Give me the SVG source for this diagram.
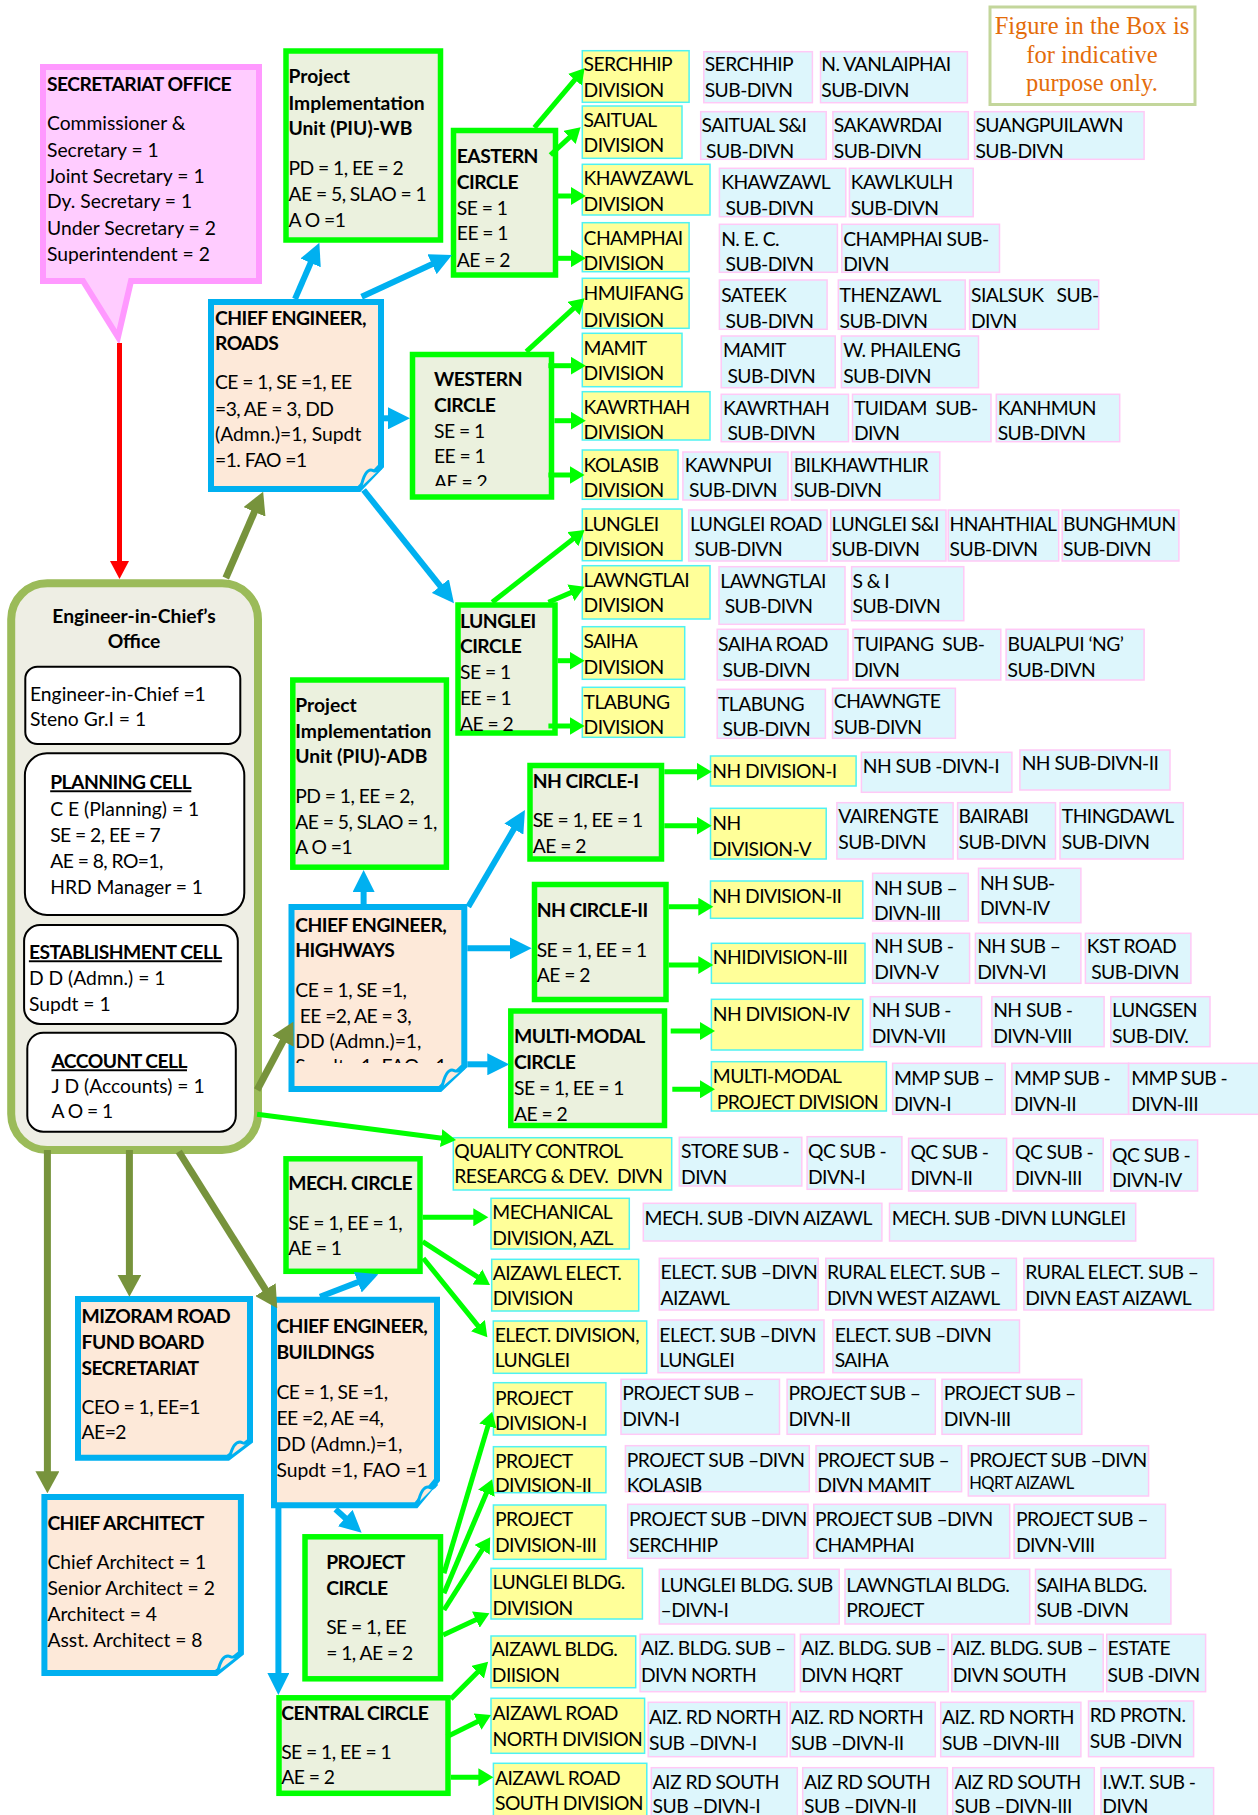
<svg xmlns="http://www.w3.org/2000/svg" width="1258" height="1815" viewBox="0 0 1258 1815">
<style>
.t{font-family:Lato,'Liberation Sans',sans-serif;font-size:19.3px;fill:#000}
.b{font-weight:700}
.c{letter-spacing:-0.55px}
.yd~text,.sd~text{letter-spacing:-0.55px}
.u{text-decoration:underline}
.s{font-size:16.5px}
.p{white-space:pre}
.gb{fill:#EBF1DE;stroke:#00FF00;stroke-width:5.5}
.pb{fill:#FDE9D9;stroke:#00B0F0;stroke-width:6}
.yd{fill:#FFFF99;stroke:#4FF2F2;stroke-width:1.5}
.sd{fill:#DDF6FC;stroke:#FFC9F6;stroke-width:1.5}
.ib{fill:#FFFFFF;stroke:#000;stroke-width:2}
.cg{fill:none;stroke:#00FF00;stroke-width:5;marker-end:url(#ag)}
.cb{fill:none;stroke:#00B0F0;stroke-width:6;marker-end:url(#ab)}
.co{fill:none;stroke:#77933C;stroke-width:7;marker-end:url(#ao)}
.fold{fill:#FDE9D9;stroke:#00B0F0;stroke-width:3}
.note{font-family:'Liberation Serif','DejaVu Serif',serif;font-size:24.5px;fill:#E46C0A;text-anchor:middle}
</style>
<defs>
<marker id="ag" markerUnits="userSpaceOnUse" markerWidth="16" markerHeight="18" refX="7" refY="9" orient="auto"><path d="M0,0 L15,9 L0,18 Z" fill="#00FF00"/></marker>
<marker id="ab" markerUnits="userSpaceOnUse" markerWidth="22" markerHeight="22" refX="10" refY="11" orient="auto"><path d="M0,0 L22,11 L0,22 Z" fill="#00B0F0"/></marker>
<marker id="ao" markerUnits="userSpaceOnUse" markerWidth="22" markerHeight="24" refX="10" refY="12" orient="auto"><path d="M0,0 L22,12 L0,24 Z" fill="#77933C"/></marker>
<clipPath id="cW"><rect x="412" y="354" width="140" height="132"/></clipPath>
<clipPath id="cH"><rect x="291" y="907" width="172" height="156"/></clipPath>
</defs>
<rect width="1258" height="1815" fill="#FFFFFF"/>

<g id="note">
<rect x="990" y="7" width="205" height="97.5" fill="#FFFFFF" stroke="#C3D69B" stroke-width="3"/>
<text class="note" x="1092" y="34.3">Figure in the Box is</text>
<text class="note" x="1092" y="62.7">for indicative</text>
<text class="note" x="1092" y="90.7">purpose only.</text>
</g>

<g id="secretariat">
<path d="M43,67 H259 V281 H131 L118,337 L83,281 H43 Z" fill="#FFCCFF" stroke="#FF99FF" stroke-width="6"/>
<text class="t b c" x="47" y="90.7">SECRETARIAT OFFICE</text>
<text class="t" x="47" y="130">Commissioner &amp;</text>
<text class="t" x="47" y="156.7">Secretary = 1</text>
<text class="t" x="47" y="182.7">Joint Secretary = 1</text>
<text class="t" x="47" y="208.3">Dy. Secretary = 1</text>
<text class="t" x="47" y="235">Under Secretary = 2</text>
<text class="t" x="47" y="261">Superintendent = 2</text>
</g>

<g id="piu-wb">
<rect class="gb" x="286" y="51" width="154.5" height="189"/>
<text class="t b" x="288.5" y="83.3">Project</text>
<text class="t b" x="288.5" y="110">Implementation</text>
<text class="t b" x="288.5" y="135">Unit (PIU)-WB</text>
<text class="t c" x="288.5" y="175">PD = 1, EE = 2</text>
<text class="t c" x="288.5" y="201">AE = 5, SLAO = 1</text>
<text class="t c" x="288.5" y="226.7">A O =1</text>
</g>

<g id="eastern-circle">
<rect class="gb" x="453.5" y="130.5" width="102" height="144.5"/>
<text class="t b c" x="456.8" y="162.7">EASTERN</text>
<text class="t b c" x="456.8" y="189.3">CIRCLE</text>
<text class="t c" x="456.8" y="215">SE = 1</text>
<text class="t c" x="456.8" y="240">EE = 1</text>
<text class="t c" x="456.8" y="266.7">AE = 2</text>
</g>

<g id="ce-roads">
<path class="pb" d="M211,302 H381 V466 L359,489 H211 Z"/>
<path class="fold" d="M361,487 C363,478 366,470 371,470 C374,470 375,474 381,468"/>
<text class="t b c" x="215" y="325">CHIEF ENGINEER,</text>
<text class="t b c" x="215" y="350">ROADS</text>
<text class="t c" x="215" y="389.3">CE = 1, SE =1, EE</text>
<text class="t c" x="215" y="415.7">=3, AE = 3, DD</text>
<text class="t" x="215" y="441">(Admn.)=1, Supdt</text>
<text class="t c" x="215" y="467.3">=1. FAO =1</text>
</g>

<g id="western-circle">
<rect class="gb" x="412.5" y="354.5" width="139" height="142.5"/>
<g clip-path="url(#cW)">
<text class="t b c" x="434" y="386">WESTERN</text>
<text class="t b c" x="434" y="411.7">CIRCLE</text>
<text class="t c" x="434" y="437.7">SE = 1</text>
<text class="t c" x="434" y="463.3">EE = 1</text>
<text class="t c" x="434" y="489">AE = 2</text>
</g>
</g>

<g id="eic-office">
<rect x="11.2" y="583.3" width="246.8" height="566.7" rx="36" fill="#EEEEE4" stroke="#9BBB59" stroke-width="8"/>
<text class="t b" x="134" y="623.3" text-anchor="middle">Engineer-in-Chief’s</text>
<text class="t b" x="134" y="648.3" text-anchor="middle">Office</text>
<rect class="ib" x="25.3" y="666.7" width="215" height="77.3" rx="12"/>
<text class="t" x="30" y="700.7">Engineer-in-Chief =1</text>
<text class="t" x="30" y="726">Steno Gr.I = 1</text>
<rect class="ib" x="24.9" y="753.3" width="219.4" height="161.7" rx="22"/>
<text class="t b u c" x="50.2" y="789.3">PLANNING CELL</text>
<text class="t" x="50.2" y="816">C E (Planning) = 1</text>
<text class="t c" x="50.2" y="841.7">SE = 2, EE = 7</text>
<text class="t c" x="50.2" y="868.3">AE = 8, RO=1,</text>
<text class="t" x="50.2" y="894">HRD Manager = 1</text>
<rect class="ib" x="24.1" y="925" width="213.7" height="99" rx="16"/>
<text class="t b u c" x="28.9" y="959.3">ESTABLISHMENT CELL</text>
<text class="t" x="28.9" y="985">D D (Admn.) = 1</text>
<text class="t" x="28.9" y="1011">Supdt = 1</text>
<rect class="ib" x="27.3" y="1032.7" width="208.5" height="99" rx="16"/>
<text class="t b u c" x="51.4" y="1068.3">ACCOUNT CELL</text>
<text class="t" x="51.4" y="1092.7">J D (Accounts) = 1</text>
<text class="t c" x="51.4" y="1118.3">A O = 1</text>
</g>

<g id="piu-adb">
<rect class="gb" x="292.8" y="680" width="153.6" height="187.2"/>
<text class="t b" x="295.3" y="711.7">Project</text>
<text class="t b" x="295.3" y="737.7">Implementation</text>
<text class="t b" x="295.3" y="763.3">Unit (PIU)-ADB</text>
<text class="t c" x="295.3" y="803.3">PD = 1, EE = 2,</text>
<text class="t c" x="295.3" y="829">AE = 5, SLAO = 1,</text>
<text class="t c" x="295.3" y="854.3">A O =1</text>
</g>

<g id="lunglei-circle">
<rect class="gb" x="458" y="605" width="97" height="128"/>
<text class="t b c" x="460" y="627.7">LUNGLEI</text>
<text class="t b c" x="460" y="653.3">CIRCLE</text>
<text class="t c" x="460" y="679.3">SE = 1</text>
<text class="t c" x="460" y="705">EE = 1</text>
<text class="t c" x="460" y="731">AE = 2</text>
</g>

<g id="ce-highways">
<path class="pb" d="M291.5,907 H464.3 V1066 L440,1089 H291.5 Z"/>
<path class="fold" d="M442,1087 C444,1078 447,1070 452,1070 C455,1070 456,1074 464,1068"/>
<g clip-path="url(#cH)">
<text class="t b c" x="295.3" y="931.7">CHIEF ENGINEER,</text>
<text class="t b c" x="295.3" y="957.3">HIGHWAYS</text>
<text class="t c" x="295.3" y="996.7">CE = 1, SE =1,</text>
<text class="t p c" x="295.3" y="1022.7"> EE =2, AE = 3,</text>
<text class="t" x="295.3" y="1048.3">DD (Admn.)=1,</text>
<text class="t" x="295.3" y="1073.3">Supdt =1, FAO =1</text>
</g>
</g>

<g id="nh-circle-1">
<rect class="gb" x="530" y="765.5" width="131.5" height="93.5"/>
<text class="t b c" x="532.7" y="788.3">NH CIRCLE-I</text>
<text class="t c" x="532.7" y="826.7">SE = 1, EE = 1</text>
<text class="t c" x="532.7" y="852.7">AE = 2</text>
</g>

<g id="nh-circle-2">
<rect class="gb" x="534.5" y="884.5" width="131.5" height="115"/>
<text class="t b c" x="536.7" y="917.3">NH CIRCLE-II</text>
<text class="t c" x="536.7" y="956.7">SE = 1, EE = 1</text>
<text class="t c" x="536.7" y="982.3">AE = 2</text>
</g>

<g id="multimodal-circle">
<rect class="gb" x="510.8" y="1011" width="153.7" height="114.5"/>
<text class="t b c" x="514" y="1043.3">MULTI-MODAL</text>
<text class="t b c" x="514" y="1069">CIRCLE</text>
<text class="t c" x="514" y="1095">SE = 1, EE = 1</text>
<text class="t c" x="514" y="1120.7">AE = 2</text>
</g>

<g id="mech-circle">
<rect class="gb" x="286" y="1158.8" width="134" height="112.5"/>
<text class="t b c" x="288.3" y="1190">MECH. CIRCLE</text>
<text class="t c" x="288.3" y="1230">SE = 1, EE = 1,</text>
<text class="t c" x="288.3" y="1255">AE = 1</text>
</g>

<g id="mrfb">
<path class="pb" d="M78,1299 H250 V1441 L228,1457.7 H78 Z"/>
<path class="fold" d="M230,1456 C232,1448 235,1442 240,1442 C243,1442 244,1446 250,1441"/>
<text class="t b c" x="81.6" y="1323.3">MIZORAM ROAD</text>
<text class="t b c" x="81.6" y="1349.3">FUND BOARD</text>
<text class="t b c" x="81.6" y="1375">SECRETARIAT</text>
<text class="t c" x="81.6" y="1414.3">CEO = 1, EE=1</text>
<text class="t c" x="81.6" y="1439.3">AE=2</text>
</g>

<g id="ce-buildings">
<path class="pb" d="M274,1299.7 H437 V1480 L416,1505.3 H274 Z"/>
<path class="fold" d="M418,1503 C420,1494 423,1487 428,1487 C431,1487 432,1491 437,1484"/>
<text class="t b c" x="276.4" y="1333.3">CHIEF ENGINEER,</text>
<text class="t b c" x="276.4" y="1359.3">BUILDINGS</text>
<text class="t c" x="276.4" y="1399.3">CE = 1, SE =1,</text>
<text class="t c" x="276.4" y="1425">EE =2, AE =4,</text>
<text class="t" x="276.4" y="1451">DD (Admn.)=1,</text>
<text class="t" x="276.4" y="1476.7">Supdt =1, FAO =1</text>
</g>

<g id="chief-architect">
<path class="pb" d="M44.4,1497 H240.9 V1653 L216,1673 H44.4 Z"/>
<path class="fold" d="M218,1671 C220,1662 223,1656 228,1656 C231,1656 232,1660 240,1654"/>
<text class="t b c" x="47.4" y="1530">CHIEF ARCHITECT</text>
<text class="t" x="47.4" y="1569">Chief Architect = 1</text>
<text class="t" x="47.4" y="1595">Senior Architect = 2</text>
<text class="t" x="47.4" y="1621">Architect = 4</text>
<text class="t" x="47.4" y="1646.7">Asst. Architect = 8</text>
</g>

<g id="project-circle">
<rect class="gb" x="305" y="1536.8" width="135.5" height="142"/>
<text class="t b c" x="326.2" y="1569.3">PROJECT</text>
<text class="t b c" x="326.2" y="1595">CIRCLE</text>
<text class="t c" x="326.2" y="1634">SE = 1, EE</text>
<text class="t c" x="326.2" y="1660">= 1, AE = 2</text>
</g>

<g id="central-circle">
<rect class="gb" x="279" y="1697.8" width="169" height="95.5"/>
<text class="t b c" x="281.2" y="1720">CENTRAL CIRCLE</text>
<text class="t c" x="281.2" y="1759.3">SE = 1, EE = 1</text>
<text class="t c" x="281.2" y="1784.3">AE = 2</text>
</g>

<!-- Divisions and sub-divisions -->
<g id="serchhip-div"><rect class="yd" x="582.3" y="50.7" width="106.8" height="51.6"/><text class="t" x="583.6" y="70.7">SERCHHIP</text><text class="t" x="583.6" y="96.7">DIVISION</text></g>
<g id="serchhip-sd"><rect class="sd" x="703.8" y="51.7" width="108.6" height="51"/><text class="t" x="704.7" y="70.7">SERCHHIP</text><text class="t" x="704.7" y="97.3">SUB-DIVN</text></g>
<g id="vanlaiphai-sd"><rect class="sd" x="820.5" y="51.7" width="146.9" height="51"/><text class="t" x="821.3" y="70.7">N. VANLAIPHAI</text><text class="t" x="821.3" y="97.3">SUB-DIVN</text></g>

<g id="saitual-div"><rect class="yd" x="582.3" y="106" width="99.7" height="52.3"/><text class="t" x="583.6" y="127.3">SAITUAL</text><text class="t" x="583.6" y="151.7">DIVISION</text></g>
<g id="saitual-sd"><rect class="sd" x="700.7" y="111.7" width="125.5" height="47.6"/><text class="t" x="701.6" y="132.3">SAITUAL S&amp;I</text><text class="t" x="706" y="158">SUB-DIVN</text></g>
<g id="sakawrdai-sd"><rect class="sd" x="832.9" y="111.7" width="135.4" height="47.6"/><text class="t" x="833.8" y="132.3">SAKAWRDAI</text><text class="t" x="833.8" y="158">SUB-DIVN</text></g>
<g id="suangpuilawn-sd"><rect class="sd" x="974.5" y="111.7" width="169.6" height="47.6"/><text class="t" x="975.4" y="132.3">SUANGPUILAWN</text><text class="t" x="975.4" y="158">SUB-DIVN</text></g>

<g id="khawzawl-div"><rect class="yd" x="582.3" y="164.3" width="127.7" height="50.7"/><text class="t" x="583.6" y="185">KHAWZAWL</text><text class="t" x="583.6" y="211">DIVISION</text></g>
<g id="khawzawl-sd"><rect class="sd" x="719.4" y="168.3" width="126.4" height="48.4"/><text class="t" x="721.2" y="189">KHAWZAWL</text><text class="t" x="725.6" y="215">SUB-DIVN</text></g>
<g id="kawlkulh-sd"><rect class="sd" x="849.4" y="168.3" width="123.8" height="48.4"/><text class="t" x="850.7" y="189">KAWLKULH</text><text class="t" x="850.7" y="215">SUB-DIVN</text></g>

<g id="champhai-div"><rect class="yd" x="582.3" y="222.7" width="106.8" height="49"/><text class="t" x="583.6" y="245">CHAMPHAI</text><text class="t" x="583.6" y="270">DIVISION</text></g>
<g id="nec-sd"><rect class="sd" x="719.4" y="224.3" width="118" height="48"/><text class="t" x="721.2" y="245.7">N. E. C.</text><text class="t" x="725.6" y="271">SUB-DIVN</text></g>
<g id="champhai-sd"><rect class="sd" x="841.8" y="224.3" width="157.7" height="48"/><text class="t" x="843.2" y="245.7">CHAMPHAI SUB-</text><text class="t" x="843.2" y="271">DIVN</text></g>

<g id="hmuifang-div"><rect class="yd" x="582.3" y="278.3" width="106.8" height="50"/><text class="t" x="583.6" y="300">HMUIFANG</text><text class="t" x="583.6" y="326.7">DIVISION</text></g>
<g id="sateek-sd"><rect class="sd" x="719.4" y="280" width="107.7" height="49.3"/><text class="t" x="721.2" y="301.7">SATEEK</text><text class="t" x="725.6" y="327.7">SUB-DIVN</text></g>
<g id="thenzawl-sd"><rect class="sd" x="838.3" y="280" width="126.9" height="49.3"/><text class="t" x="839.6" y="301.7">THENZAWL</text><text class="t" x="839.6" y="327.7">SUB-DIVN</text></g>
<g id="sialsuk-sd"><rect class="sd" x="969.6" y="280" width="129.1" height="49.3"/><text class="t p" x="971" y="301.7">SIALSUK   SUB-</text><text class="t" x="971" y="327.7">DIVN</text></g>

<g id="mamit-div"><rect class="yd" x="582.3" y="333.3" width="99.7" height="53.4"/><text class="t" x="583.6" y="355">MAMIT</text><text class="t" x="583.6" y="380">DIVISION</text></g>
<g id="mamit-sd"><rect class="sd" x="721.2" y="336" width="114" height="51.7"/><text class="t" x="723" y="357.3">MAMIT</text><text class="t" x="727.4" y="383.3">SUB-DIVN</text></g>
<g id="phaileng-sd"><rect class="sd" x="841.4" y="336" width="137.1" height="51.7"/><text class="t" x="843.2" y="357.3">W. PHAILENG</text><text class="t" x="843.2" y="383.3">SUB-DIVN</text></g>

<g id="kawrthah-div"><rect class="yd" x="582.3" y="391.7" width="127.7" height="48.3"/><text class="t" x="583.6" y="414">KAWRTHAH</text><text class="t" x="583.6" y="438.5">DIVISION</text></g>
<g id="kawrthah-sd"><rect class="sd" x="721.2" y="394.3" width="127.3" height="47.4"/><text class="t" x="723" y="415">KAWRTHAH</text><text class="t" x="727.4" y="440">SUB-DIVN</text></g>
<g id="tuidam-sd"><rect class="sd" x="852.5" y="394.3" width="138.5" height="47.4"/><text class="t p" x="853.9" y="415">TUIDAM  SUB-</text><text class="t" x="853.9" y="440">DIVN</text></g>
<g id="kanhmun-sd"><rect class="sd" x="996.3" y="394.3" width="123.4" height="47.4"/><text class="t" x="997.7" y="415">KANHMUN</text><text class="t" x="997.7" y="440">SUB-DIVN</text></g>

<g id="kolasib-div"><rect class="yd" x="582.3" y="450" width="95.7" height="49.3"/><text class="t" x="583.6" y="471.7">KOLASIB</text><text class="t" x="583.6" y="497.3">DIVISION</text></g>
<g id="kawnpui-sd"><rect class="sd" x="682.9" y="452" width="105.1" height="48"/><text class="t" x="684.7" y="471.7">KAWNPUI</text><text class="t" x="689.1" y="497.3">SUB-DIVN</text></g>
<g id="bilkhawthlir-sd"><rect class="sd" x="791.5" y="452" width="148.3" height="48"/><text class="t" x="793.7" y="471.7">BILKHAWTHLIR</text><text class="t" x="793.7" y="497.3">SUB-DIVN</text></g>

<g id="lunglei-div"><rect class="yd" x="582.3" y="509" width="99.7" height="51.7"/><text class="t" x="583.6" y="530.7">LUNGLEI</text><text class="t" x="583.6" y="556">DIVISION</text></g>
<g id="lunglei-road-sd"><rect class="sd" x="688.7" y="510" width="138.4" height="51"/><text class="t" x="690" y="530.7">LUNGLEI ROAD</text><text class="t" x="694.5" y="556">SUB-DIVN</text></g>
<g id="lunglei-si-sd"><rect class="sd" x="830.7" y="510" width="115.3" height="51"/><text class="t" x="831.6" y="530.7">LUNGLEI S&amp;I</text><text class="t" x="831.6" y="556">SUB-DIVN</text></g>
<g id="hnahthial-sd"><rect class="sd" x="948.2" y="510" width="110.5" height="51"/><text class="t" x="949.6" y="530.7">HNAHTHIAL</text><text class="t" x="949.6" y="556">SUB-DIVN</text></g>
<g id="bunghmun-sd"><rect class="sd" x="1062.2" y="510" width="116.7" height="51"/><text class="t" x="1063.1" y="530.7">BUNGHMUN</text><text class="t" x="1063.1" y="556">SUB-DIVN</text></g>

<g id="lawngtlai-div"><rect class="yd" x="582.3" y="565.7" width="127.7" height="53.3"/><text class="t" x="583.6" y="586.7">LAWNGTLAI</text><text class="t" x="583.6" y="612.3">DIVISION</text></g>
<g id="lawngtlai-sd"><rect class="sd" x="719" y="566.7" width="126" height="57.6"/><text class="t" x="720.3" y="588.3">LAWNGTLAI</text><text class="t" x="724.7" y="613.3">SUB-DIVN</text></g>
<g id="si-sd"><rect class="sd" x="851.6" y="566.7" width="112.2" height="54"/><text class="t" x="852.5" y="588.3">S &amp; I</text><text class="t" x="852.5" y="613.3">SUB-DIVN</text></g>

<g id="saiha-div"><rect class="yd" x="582.3" y="626.7" width="102.4" height="52.6"/><text class="t" x="583.6" y="648.3">SAIHA</text><text class="t" x="583.6" y="674.3">DIVISION</text></g>
<g id="saiha-road-sd"><rect class="sd" x="717.2" y="629.3" width="130.8" height="50.7"/><text class="t" x="718" y="650.7">SAIHA ROAD</text><text class="t" x="722.5" y="676.7">SUB-DIVN</text></g>
<g id="tuipang-sd"><rect class="sd" x="853" y="629.3" width="147.8" height="50.7"/><text class="t p" x="853.9" y="650.7">TUIPANG  SUB-</text><text class="t" x="853.9" y="676.7">DIVN</text></g>
<g id="bualpui-sd"><rect class="sd" x="1006.1" y="629.3" width="138" height="50.7"/><text class="t" x="1007.5" y="650.7">BUALPUI ‘NG’</text><text class="t" x="1007.5" y="676.7">SUB-DIVN</text></g>

<g id="tlabung-div"><rect class="yd" x="582.3" y="687.3" width="102.4" height="50"/><text class="t" x="583.6" y="709.3">TLABUNG</text><text class="t" x="583.6" y="734.3">DIVISION</text></g>
<g id="tlabung-sd"><rect class="sd" x="717.2" y="689.3" width="108.2" height="49"/><text class="t" x="718" y="710.7">TLABUNG</text><text class="t" x="722.5" y="736">SUB-DIVN</text></g>
<g id="chawngte-sd"><rect class="sd" x="832.5" y="688.3" width="122.9" height="50"/><text class="t" x="833.8" y="708.3">CHAWNGTE</text><text class="t" x="833.8" y="734.3">SUB-DIVN</text></g>

<g id="nh-div-1"><rect class="yd" x="710.5" y="756" width="145.6" height="30"/><text class="t" x="712.3" y="777.7">NH DIVISION-I</text></g>
<g id="nh-sd-1"><rect class="sd" x="861.4" y="752.3" width="150.5" height="40"/><text class="t" x="862.8" y="773.3">NH SUB -DIVN-I</text></g>
<g id="nh-sd-2"><rect class="sd" x="1019.9" y="750" width="150.1" height="40"/><text class="t" x="1021.7" y="770">NH SUB-DIVN-II</text></g>

<g id="nh-div-5"><rect class="yd" x="710.5" y="808.3" width="115.7" height="50.7"/><text class="t" x="712.3" y="830">NH</text><text class="t" x="712.3" y="856">DIVISION-V</text></g>
<g id="vairengte-sd"><rect class="sd" x="836.9" y="802.7" width="116.2" height="56.3"/><text class="t" x="838.3" y="823.3">VAIRENGTE</text><text class="t" x="838.3" y="849.3">SUB-DIVN</text></g>
<g id="bairabi-sd"><rect class="sd" x="957.6" y="802.7" width="97.9" height="56.3"/><text class="t" x="958.5" y="823.3">BAIRABI</text><text class="t" x="958.5" y="849.3">SUB-DIVN</text></g>
<g id="thingdawl-sd"><rect class="sd" x="1060" y="802.7" width="123.3" height="56.3"/><text class="t" x="1061.8" y="823.3">THINGDAWL</text><text class="t" x="1061.8" y="849.3">SUB-DIVN</text></g>

<g id="nh-div-2"><rect class="yd" x="710.5" y="881" width="152.3" height="37.3"/><text class="t" x="712.3" y="902.7">NH DIVISION-II</text></g>
<g id="nh-sd-3"><rect class="sd" x="872.6" y="873.3" width="95.7" height="47.7"/><text class="t" x="873.9" y="895">NH SUB –</text><text class="t" x="873.9" y="920">DIVN-III</text></g>
<g id="nh-sd-4"><rect class="sd" x="978.5" y="868.3" width="102.4" height="54.4"/><text class="t" x="979.9" y="890">NH SUB-</text><text class="t" x="979.9" y="915">DIVN-IV</text></g>

<g id="nh-div-3"><rect class="yd" x="711.4" y="943.3" width="153.6" height="40"/><text class="t" x="712.8" y="964">NHIDIVISION-III</text></g>
<g id="nh-sd-5"><rect class="sd" x="872.6" y="933.3" width="97" height="50"/><text class="t" x="874.3" y="953.3">NH SUB -</text><text class="t" x="874.3" y="979.3">DIVN-V</text></g>
<g id="nh-sd-6"><rect class="sd" x="975.4" y="933.3" width="105.5" height="50"/><text class="t" x="977.2" y="953.3">NH SUB –</text><text class="t" x="977.2" y="979.3">DIVN-VI</text></g>
<g id="kst-road-sd"><rect class="sd" x="1085.4" y="933.3" width="105.5" height="50"/><text class="t" x="1086.7" y="953.3">KST ROAD</text><text class="t" x="1091.2" y="979.3">SUB-DIVN</text></g>

<g id="nh-div-4"><rect class="yd" x="711.4" y="999.3" width="151.4" height="50.7"/><text class="t" x="712.8" y="1021">NH DIVISION-IV</text></g>
<g id="nh-sd-7"><rect class="sd" x="870.3" y="996.7" width="111.3" height="50"/><text class="t" x="871.7" y="1016.7">NH SUB -</text><text class="t" x="871.7" y="1043.3">DIVN-VII</text></g>
<g id="nh-sd-8"><rect class="sd" x="991.9" y="996.7" width="112.2" height="50"/><text class="t" x="993.2" y="1016.7">NH SUB -</text><text class="t" x="993.2" y="1043.3">DIVN-VIII</text></g>
<g id="lungsen-sd"><rect class="sd" x="1110.8" y="996.7" width="99.2" height="50"/><text class="t" x="1112.1" y="1016.7">LUNGSEN</text><text class="t" x="1112.1" y="1043.3">SUB-DIV.</text></g>

<g id="mmp-div"><rect class="yd" x="711.4" y="1061.7" width="175" height="49.3"/><text class="t" x="712.8" y="1083.3">MULTI-MODAL</text><text class="t" x="716.7" y="1109.3">PROJECT DIVISION</text></g>
<g id="mmp-sd-1"><rect class="sd" x="892.6" y="1063.3" width="112.6" height="51"/><text class="t" x="893.9" y="1085">MMP SUB –</text><text class="t" x="893.9" y="1110.7">DIVN-I</text></g>
<g id="mmp-sd-2"><rect class="sd" x="1011.9" y="1063.3" width="116.7" height="51"/><text class="t" x="1014.1" y="1085">MMP SUB -</text><text class="t" x="1014.1" y="1110.7">DIVN-II</text></g>
<g id="mmp-sd-3"><rect class="sd" x="1128.6" y="1063.3" width="135" height="51"/><text class="t" x="1131.2" y="1085">MMP SUB -</text><text class="t" x="1131.2" y="1110.7">DIVN-III</text></g>

<g id="qc-div"><rect class="yd" x="453.3" y="1137.7" width="218.4" height="52.3"/><text class="t" x="454.3" y="1158.3">QUALITY CONTROL</text><text class="t p" x="454.3" y="1183.3">RESEARCG &amp; DEV.  DIVN</text></g>
<g id="store-sd"><rect class="sd" x="679.3" y="1137.3" width="122.5" height="48.7"/><text class="t" x="681.1" y="1158.3">STORE SUB -</text><text class="t" x="681.1" y="1184">DIVN</text></g>
<g id="qc-sd-1"><rect class="sd" x="807.1" y="1136.7" width="94.8" height="52.6"/><text class="t" x="808" y="1158.3">QC SUB -</text><text class="t" x="808" y="1184">DIVN-I</text></g>
<g id="qc-sd-2"><rect class="sd" x="908.6" y="1138.3" width="98" height="52.7"/><text class="t" x="910.4" y="1159.3">QC SUB -</text><text class="t" x="910.4" y="1185">DIVN-II</text></g>
<g id="qc-sd-3"><rect class="sd" x="1013.2" y="1138.3" width="90" height="52.7"/><text class="t" x="1015" y="1159.3">QC SUB -</text><text class="t" x="1015" y="1185">DIVN-III</text></g>
<g id="qc-sd-4"><rect class="sd" x="1110.8" y="1140" width="86.8" height="51"/><text class="t" x="1112.1" y="1161.7">QC SUB -</text><text class="t" x="1112.1" y="1187.3">DIVN-IV</text></g>

<g id="mech-div"><rect class="yd" x="491" y="1198.3" width="138.3" height="50.7"/><text class="t" x="492.3" y="1219">MECHANICAL</text><text class="t" x="492.3" y="1245">DIVISION, AZL</text></g>
<g id="mech-sd-1"><rect class="sd" x="643.3" y="1203.3" width="238.6" height="37.7"/><text class="t" x="644.6" y="1225">MECH. SUB -DIVN AIZAWL</text></g>
<g id="mech-sd-2"><rect class="sd" x="889.5" y="1203.3" width="246.2" height="37.7"/><text class="t" x="891.7" y="1225">MECH. SUB -DIVN LUNGLEI</text></g>

<g id="aizawl-elect-div"><rect class="yd" x="491.7" y="1259.3" width="147" height="51.7"/><text class="t" x="492.7" y="1280">AIZAWL ELECT.</text><text class="t" x="492.7" y="1305">DIVISION</text></g>
<g id="elect-sd-1"><rect class="sd" x="659.3" y="1258.3" width="158.9" height="51.7"/><text class="t" x="660.6" y="1279">ELECT. SUB –DIVN</text><text class="t" x="660.6" y="1305">AIZAWL</text></g>
<g id="elect-sd-2"><rect class="sd" x="825.8" y="1258.3" width="190.6" height="51.7"/><text class="t" x="827.1" y="1279">RURAL ELECT. SUB –</text><text class="t" x="827.1" y="1305">DIVN WEST AIZAWL</text></g>
<g id="elect-sd-3"><rect class="sd" x="1023.9" y="1258.3" width="189.7" height="51.7"/><text class="t" x="1025.3" y="1279">RURAL ELECT. SUB –</text><text class="t" x="1025.3" y="1305">DIVN EAST AIZAWL</text></g>

<g id="elect-lunglei-div"><rect class="yd" x="493.3" y="1321" width="153.4" height="52.3"/><text class="t" x="494.7" y="1341.7">ELECT. DIVISION,</text><text class="t" x="494.7" y="1366.7">LUNGLEI</text></g>
<g id="elect-sd-4"><rect class="sd" x="658" y="1320" width="166" height="52.7"/><text class="t" x="659.3" y="1341.7">ELECT. SUB –DIVN</text><text class="t" x="659.3" y="1366.7">LUNGLEI</text></g>
<g id="elect-sd-5"><rect class="sd" x="832.9" y="1320" width="186.6" height="52.7"/><text class="t" x="834.7" y="1341.7">ELECT. SUB –DIVN</text><text class="t" x="834.7" y="1366.7">SAIHA</text></g>

<g id="project-div-1"><rect class="yd" x="493.4" y="1382.7" width="112.5" height="52.3"/><text class="t" x="495" y="1405">PROJECT</text><text class="t" x="495" y="1430">DIVISION-I</text></g>
<g id="project-sd-1"><rect class="sd" x="621" y="1379.3" width="158.5" height="55"/><text class="t" x="622.3" y="1400">PROJECT SUB –</text><text class="t" x="622.3" y="1426">DIVN-I</text></g>
<g id="project-sd-2"><rect class="sd" x="787.1" y="1379.3" width="148.2" height="55"/><text class="t" x="788.4" y="1400">PROJECT SUB –</text><text class="t" x="788.4" y="1426">DIVN-II</text></g>
<g id="project-sd-3"><rect class="sd" x="942" y="1379.3" width="139.8" height="55"/><text class="t" x="943.8" y="1400">PROJECT SUB –</text><text class="t" x="943.8" y="1426">DIVN-III</text></g>

<g id="project-div-2"><rect class="yd" x="493.4" y="1446.7" width="112.5" height="46"/><text class="t" x="495" y="1468.3">PROJECT</text><text class="t" x="495" y="1492">DIVISION-II</text></g>
<g id="project-sd-4"><rect class="sd" x="625.4" y="1445.7" width="183.9" height="46"/><text class="t" x="626.8" y="1466.7">PROJECT SUB –DIVN</text><text class="t" x="626.8" y="1491.7">KOLASIB</text></g>
<g id="project-sd-5"><rect class="sd" x="816" y="1445.7" width="145.6" height="46"/><text class="t" x="817.3" y="1466.7">PROJECT SUB –</text><text class="t" x="817.3" y="1491.7">DIVN MAMIT</text></g>
<g id="project-sd-6"><rect class="sd" x="968.3" y="1445.7" width="180.3" height="50.3"/><text class="t" x="969.2" y="1466.7">PROJECT SUB –DIVN</text><text class="t s" x="969.2" y="1489.3">HQRT AIZAWL</text></g>

<g id="project-div-3"><rect class="yd" x="493.4" y="1505" width="112.5" height="54.3"/><text class="t" x="495" y="1526">PROJECT</text><text class="t" x="495" y="1551.7">DIVISION-III</text></g>
<g id="project-sd-7"><rect class="sd" x="627.7" y="1504.3" width="180.3" height="54"/><text class="t" x="629" y="1526">PROJECT SUB –DIVN</text><text class="t" x="629" y="1551.7">SERCHHIP</text></g>
<g id="project-sd-8"><rect class="sd" x="813.8" y="1504.3" width="195.9" height="54"/><text class="t" x="815.1" y="1526">PROJECT SUB –DIVN</text><text class="t" x="815.1" y="1551.7">CHAMPHAI</text></g>
<g id="project-sd-9"><rect class="sd" x="1014.1" y="1504.3" width="151.4" height="54"/><text class="t" x="1015.9" y="1526">PROJECT SUB –</text><text class="t" x="1015.9" y="1551.7">DIVN-VIII</text></g>

<g id="lunglei-bldg-div"><rect class="yd" x="491" y="1568.3" width="151.4" height="50.7"/><text class="t" x="492.6" y="1589.3">LUNGLEI BLDG.</text><text class="t" x="492.6" y="1615">DIVISION</text></g>
<g id="lunglei-bldg-sd"><rect class="sd" x="659.3" y="1569.3" width="179.9" height="54.7"/><text class="t" x="660.6" y="1591.7">LUNGLEI BLDG. SUB</text><text class="t" x="660.6" y="1616.7">–DIVN-I</text></g>
<g id="lawngtlai-bldg-sd"><rect class="sd" x="845" y="1569.3" width="184.7" height="54.7"/><text class="t" x="846.3" y="1591.7">LAWNGTLAI BLDG.</text><text class="t" x="846.3" y="1616.7">PROJECT</text></g>
<g id="saiha-bldg-sd"><rect class="sd" x="1035.5" y="1569.3" width="135.4" height="54.7"/><text class="t" x="1036.4" y="1591.7">SAIHA BLDG.</text><text class="t" x="1036.4" y="1616.7">SUB -DIVN</text></g>

<g id="aizawl-bldg-div"><rect class="yd" x="491" y="1636" width="144.7" height="51.7"/><text class="t" x="491.8" y="1656">AIZAWL BLDG.</text><text class="t" x="491.8" y="1681.7">DIISION</text></g>
<g id="aiz-bldg-sd-1"><rect class="sd" x="640.1" y="1634.3" width="154.5" height="57.4"/><text class="t" x="641" y="1655">AIZ. BLDG. SUB –</text><text class="t" x="641" y="1681.7">DIVN NORTH</text></g>
<g id="aiz-bldg-sd-2"><rect class="sd" x="800.4" y="1634.3" width="147.8" height="57.4"/><text class="t" x="801.3" y="1655">AIZ. BLDG. SUB –</text><text class="t" x="801.3" y="1681.7">DIVN HQRT</text></g>
<g id="aiz-bldg-sd-3"><rect class="sd" x="951.8" y="1634.3" width="151.4" height="57.4"/><text class="t" x="952.7" y="1655">AIZ. BLDG. SUB –</text><text class="t" x="952.7" y="1681.7">DIVN SOUTH</text></g>
<g id="estate-sd"><rect class="sd" x="1106.7" y="1634.3" width="98.9" height="57.4"/><text class="t" x="1107.6" y="1655">ESTATE</text><text class="t" x="1107.6" y="1681.7">SUB -DIVN</text></g>

<g id="aiz-rd-north-div"><rect class="yd" x="491" y="1698.3" width="153.6" height="55"/><text class="t" x="492.6" y="1720">AIZAWL ROAD</text><text class="t" x="492.6" y="1745.7">NORTH DIVISION</text></g>
<g id="aiz-rd-n-sd-1"><rect class="sd" x="648.2" y="1702.3" width="138.9" height="54.4"/><text class="t" x="649" y="1724">AIZ. RD NORTH</text><text class="t" x="649" y="1750">SUB –DIVN-I</text></g>
<g id="aiz-rd-n-sd-2"><rect class="sd" x="790.2" y="1702.3" width="145.1" height="54.4"/><text class="t" x="791.1" y="1724">AIZ. RD NORTH</text><text class="t" x="791.1" y="1750">SUB –DIVN-II</text></g>
<g id="aiz-rd-n-sd-3"><rect class="sd" x="940.7" y="1702.3" width="140.2" height="54.4"/><text class="t" x="942" y="1724">AIZ. RD NORTH</text><text class="t" x="942" y="1750">SUB –DIVN-III</text></g>
<g id="rd-protn-sd"><rect class="sd" x="1088.5" y="1701" width="105.1" height="55.7"/><text class="t" x="1089.8" y="1722.3">RD PROTN.</text><text class="t" x="1089.8" y="1748.3">SUB -DIVN</text></g>

<g id="aiz-rd-south-div"><rect class="yd" x="493.4" y="1763.3" width="153.4" height="56"/><text class="t" x="495" y="1785">AIZAWL ROAD</text><text class="t" x="495" y="1810">SOUTH DIVISION</text></g>
<g id="aiz-rd-s-sd-1"><rect class="sd" x="651.3" y="1767.7" width="146" height="52"/><text class="t" x="652.6" y="1789">AIZ RD SOUTH</text><text class="t" x="652.6" y="1813.3">SUB –DIVN-I</text></g>
<g id="aiz-rd-s-sd-2"><rect class="sd" x="802.7" y="1767.7" width="144.7" height="52"/><text class="t" x="804" y="1789">AIZ RD SOUTH</text><text class="t" x="804" y="1813.3">SUB –DIVN-II</text></g>
<g id="aiz-rd-s-sd-3"><rect class="sd" x="952.7" y="1767.7" width="141.6" height="52"/><text class="t" x="954.5" y="1789">AIZ RD SOUTH</text><text class="t" x="954.5" y="1813.3">SUB –DIVN-III</text></g>
<g id="iwt-sd"><rect class="sd" x="1101" y="1767.7" width="112.6" height="52"/><text class="t" x="1102.3" y="1789">I.W.T. SUB -</text><text class="t" x="1102.3" y="1813.3">DIVN</text></g>

<g id="connectors">
<line x1="119.5" y1="343" x2="119.5" y2="563" stroke="#FF0000" stroke-width="5"/>
<polygon points="110,561 129,561 119.5,579" fill="#FF0000"/>
<line class="co" x1="225.8" y1="578" x2="258.4" y2="502.7"/>
<line class="co" x1="257.1" y1="1090" x2="287.7" y2="1032.3"/>
<line class="co" x1="47.4" y1="1150" x2="47.4" y2="1481.3"/>
<line class="co" x1="129.4" y1="1150" x2="129.4" y2="1284.7"/>
<line class="co" x1="178.8" y1="1151.7" x2="270.8" y2="1298.1"/>

<line class="cb" x1="295" y1="299" x2="314.6" y2="253.7"/>
<line class="cb" x1="361.6" y1="296.7" x2="441.1" y2="260"/>
<line class="cb" x1="384" y1="418.3" x2="398" y2="418.3"/>
<line class="cb" x1="363.6" y1="490" x2="446.5" y2="593.9"/>
<line class="cb" x1="363.6" y1="904" x2="363.6" y2="882"/>
<line class="cb" x1="468.3" y1="906.7" x2="518.9" y2="820.4"/>
<line class="cb" x1="467.3" y1="948.3" x2="519.7" y2="948.3"/>
<line class="cb" x1="467.3" y1="1064.3" x2="497.3" y2="1064.3"/>
<line class="cb" x1="320" y1="1296.7" x2="367.1" y2="1278.6"/>
<line class="cb" x1="335.5" y1="1509.3" x2="352.7" y2="1524.7"/>
<line class="cb" x1="278.4" y1="1508" x2="278.4" y2="1683"/>

<line class="cg" x1="534.4" y1="127.7" x2="579.4" y2="74.4"/>
<line class="cg" x1="550.4" y1="155" x2="574.7" y2="132.7"/>
<line class="cg" x1="556" y1="196" x2="577.8" y2="196"/>
<line class="cg" x1="556" y1="258.3" x2="577.8" y2="258.3"/>
<line class="cg" x1="526.3" y1="351.7" x2="578.7" y2="303.7"/>
<line class="cg" x1="548.4" y1="365.7" x2="577.8" y2="365.7"/>
<line class="cg" x1="554.4" y1="420.7" x2="577.8" y2="420.7"/>
<line class="cg" x1="548.4" y1="475" x2="576.6" y2="475"/>
<line class="cg" x1="492.2" y1="602.3" x2="578.3" y2="534.9"/>
<line class="cg" x1="548.4" y1="602.3" x2="577.3" y2="589.9"/>
<line class="cg" x1="557.7" y1="660.7" x2="576.6" y2="660.7"/>
<line class="cg" x1="548.4" y1="726" x2="576.6" y2="726"/>
<line class="cg" x1="664.3" y1="771.7" x2="703.7" y2="771.7"/>
<line class="cg" x1="664.3" y1="825.7" x2="703.7" y2="825.7"/>
<line class="cg" x1="668.7" y1="906.7" x2="705.3" y2="906.7"/>
<line class="cg" x1="668.7" y1="965" x2="705.3" y2="965"/>
<line class="cg" x1="670.7" y1="1031" x2="707" y2="1031"/>
<line class="cg" x1="672.3" y1="1089.3" x2="707" y2="1089.3"/>
<line class="cg" x1="257.1" y1="1114.3" x2="448.1" y2="1139"/>
<line class="cg" x1="422.7" y1="1217.3" x2="480.3" y2="1217.3"/>
<line class="cg" x1="422.7" y1="1241.7" x2="483.3" y2="1280.7"/>
<line class="cg" x1="423.3" y1="1258.3" x2="482.3" y2="1331.1"/>
<line class="cg" x1="444" y1="1573.3" x2="489.9" y2="1419.4"/>
<line class="cg" x1="444" y1="1593.3" x2="489.1" y2="1486.7"/>
<line class="cg" x1="444" y1="1610" x2="485.9" y2="1544"/>
<line class="cg" x1="443.2" y1="1635" x2="482.2" y2="1616.7"/>
<line class="cg" x1="450.8" y1="1699" x2="482.5" y2="1667.3"/>
<line class="cg" x1="446.8" y1="1736.7" x2="483.8" y2="1718.5"/>
<line class="cg" x1="450.8" y1="1777.3" x2="485.4" y2="1777.3"/>
</g>
</svg>
